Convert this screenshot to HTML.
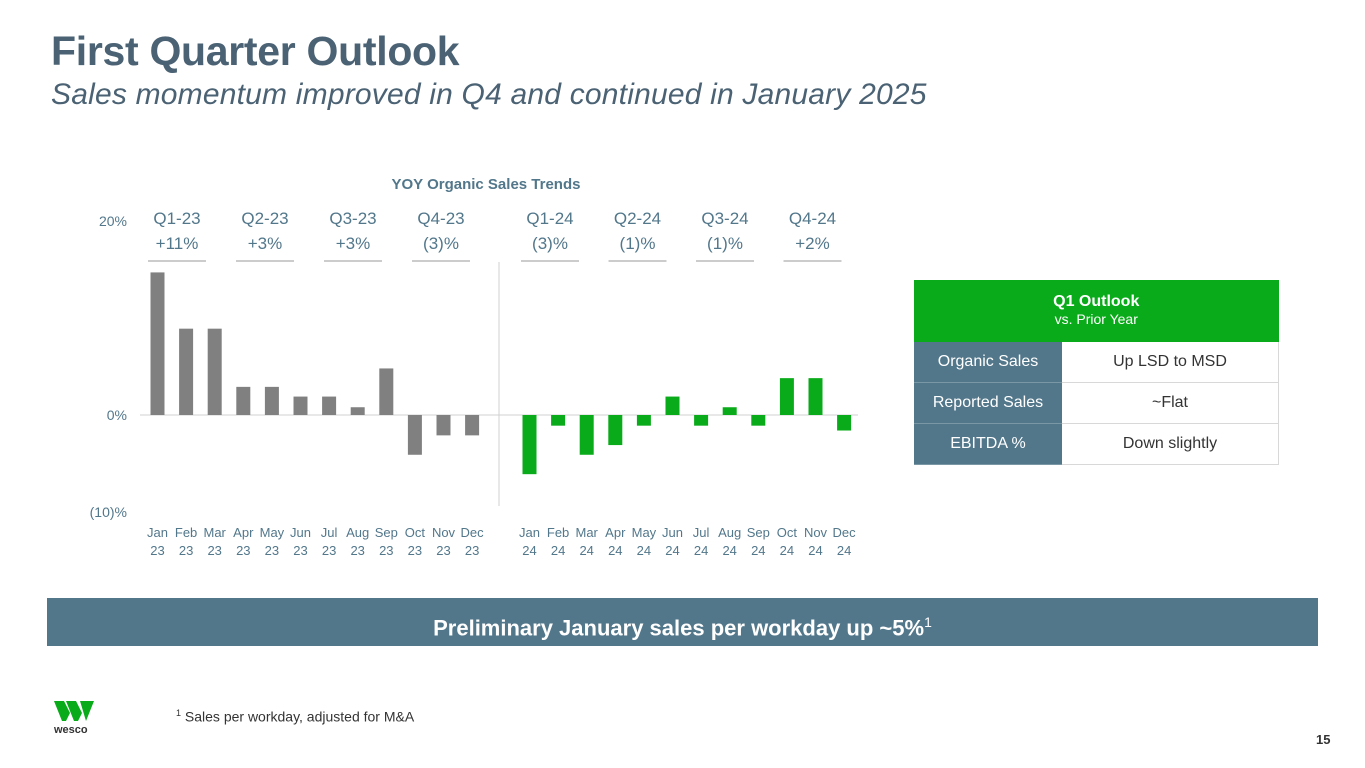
<!DOCTYPE html>
<html><head><meta charset="utf-8"><style>
body{margin:0;width:1365px;height:768px;background:#fff;position:relative;overflow:hidden;font-family:"Liberation Sans",sans-serif}
.abs{position:absolute}
h1{position:absolute;left:51px;top:28px;margin:0;font-size:41px;font-weight:bold;color:#4a6273;letter-spacing:-0.3px}
h2{position:absolute;left:51px;top:78px;margin:0;font-size:30px;font-weight:normal;font-style:italic;color:#4a6273;letter-spacing:0.2px}
table{position:absolute;left:914px;top:280px;width:365px;border-collapse:collapse;font-size:16px}
td{height:40px;padding:0;text-align:center;border-bottom:1px solid #d8d8d8}
td.l{background:#52778b;color:#fff;width:148px;border-bottom:1px solid #7a97a6}
td.r{color:#333;border-right:1px solid #d8d8d8}
</style></head><body>
<h1>First Quarter Outlook</h1>
<h2>Sales momentum improved in Q4 and continued in January 2025</h2>
<svg class="abs" style="left:0;top:0" width="1365" height="600" id="chart"></svg>
<table>
<tr><td colspan="2" style="background:#0aab1a;color:#fff;height:62px;border:none"><b style="font-size:16px">Q1 Outlook</b><br><span style="font-size:14px">vs. Prior Year</span></td></tr>
<tr><td class="l">Organic Sales</td><td class="r">Up LSD to MSD</td></tr>
<tr><td class="l">Reported Sales</td><td class="r">~Flat</td></tr>
<tr><td class="l">EBITDA %</td><td class="r">Down slightly</td></tr>
</table>
<div class="abs" style="left:47px;top:598px;width:1271px;height:48px;background:#52778b;color:#fff;font-size:22px;font-weight:bold;text-align:center;line-height:48px">Preliminary January sales per workday up ~5%<sup style="font-size:14px;font-weight:normal">1</sup></div>
<div class="abs" style="left:176px;top:708px;font-size:14px;color:#333"><sup style="font-size:9px">1</sup> Sales per workday, adjusted for M&amp;A</div>
<div class="abs" style="left:54px;top:701px;width:44px">
<svg width="44" height="20" viewBox="0 0 44 20"><polygon points="0,0 10,0 16,12 12,20 8,20" fill="#0aab1a"/><polygon points="12,0 22,0 28,12 24,20 20,20" fill="#0aab1a"/><polygon points="26,0 40,0 32,20" fill="#0aab1a"/></svg>
<div style="font-size:11px;font-weight:bold;color:#333;margin-top:-2px">wesco</div></div>
<div class="abs" style="left:1316px;top:732px;font-size:13px;font-weight:bold;color:#333">15</div>
<script>
const months=["Jan","Feb","Mar","Apr","May","Jun","Jul","Aug","Sep","Oct","Nov","Dec"];
const values23=[14.7,8.9,8.9,2.9,2.9,1.9,1.9,0.8,4.8,-4.1,-2.1,-2.1];
const values24=[-6.1,-1.1,-4.1,-3.1,-1.1,1.9,-1.1,0.8,-1.1,3.8,3.8,-1.6];
const quarters=["Q1-23","Q2-23","Q3-23","Q4-23","Q1-24","Q2-24","Q3-24","Q4-24"];
const quarterVals=["+11%","+3%","+3%","(3)%","(3)%","(1)%","(1)%","+2%"];
const yTicks=[20,0,-10];
const yTickLabels=["20%","0%","(10)%"];
const svg=document.getElementById('chart');
const NS="http://www.w3.org/2000/svg";
const y=v=>415-v*9.7;
const x23=i=>157.5+i*28.6;
const x24=i=>529.5+i*28.6;
const qx=i=>i<4?177+i*88:550+(i-4)*87.5;
function mk(t,a,txt){const e=document.createElementNS(NS,t);for(const k in a)e.setAttribute(k,a[k]);if(txt!=null)e.textContent=txt;svg.appendChild(e);return e;}
let e=mk('text',{x:486,y:189,'text-anchor':'middle','font-size':15,'font-weight':'bold',fill:'#52778b'},'YOY Organic Sales Trends');

yTicks.forEach((t,i)=>{const l=mk('text',{x:127,y:y(t)+5,'text-anchor':'end','font-size':14,fill:'#52778b'},yTickLabels[i]);
});
e=mk('line',{x1:140,x2:858,y1:415,y2:415,stroke:'#d0d0d0','stroke-width':1});

e=mk('line',{x1:499,x2:499,y1:262,y2:506,stroke:'#d0d0d0','stroke-width':1});

function bars(vals,xf,col,yr){vals.forEach((v,i)=>{const cx=xf(i);
const r=mk('rect',{x:cx-7,width:14,y:Math.min(y(v),415),height:Math.abs(y(v)-415),fill:col});

const t1=mk('text',{x:cx,y:537,'text-anchor':'middle','font-size':13,fill:'#52778b'},months[i]);

const t2=mk('text',{x:cx,y:555,'text-anchor':'middle','font-size':13,fill:'#52778b'},yr);
});}
bars(values23,x23,'#808080','23');
bars(values24,x24,'#0aab1a','24');
quarters.forEach((q,i)=>{const cx=qx(i);
const a=mk('text',{x:cx,y:224,'text-anchor':'middle','font-size':17,fill:'#52778b'},q);

const b=mk('text',{x:cx,y:249,'text-anchor':'middle','font-size':17,fill:'#52778b'},quarterVals[i]);

const l=mk('line',{x1:cx-29,x2:cx+29,y1:261,y2:261,stroke:'#cccccc','stroke-width':2});
});
</script>
</body></html>
